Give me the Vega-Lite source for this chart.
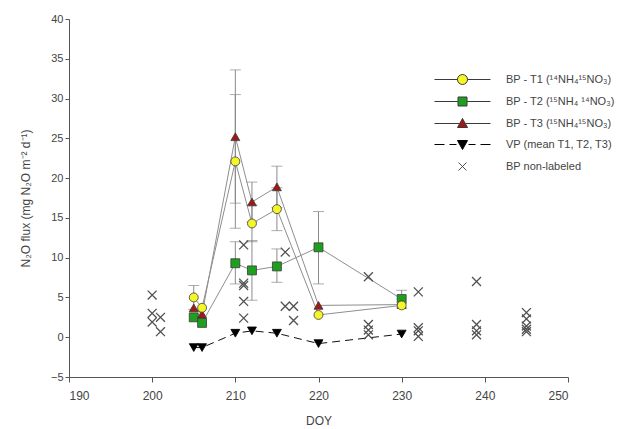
{
  "$schema": "https://vega.github.io/schema/vega-lite/v6.json",
  "width": 499,
  "height": 358,
  "autosize": {"type": "none"},
  "padding": {"left": 69, "top": 19, "right": 75, "bottom": 52},
  "background": "white",
  "config": {
    "view": {"stroke": null},
    "font": "Liberation Sans",
    "axis": {"grid": false, "domainColor": "#555", "tickColor": "#555", "labelColor": "#444", "titleColor": "#444", "labelFontSize": 11, "titleFontSize": 12, "titleFontWeight": "normal", "labelFont": "Liberation Sans", "titleFont": "Liberation Sans", "labelOverlap": false},
    "legend": {"orient": "none", "legendX": 388, "legendY": 55, "padding": 0, "symbolSize": 100, "symbolStrokeWidth": 1, "labelOffset": 38, "rowPadding": 8, "labelFontSize": 11, "labelColor": "#444", "labelLimit": 400, "labelFont": "Liberation Sans"}
  },
  "datasets": {
    "pts": [
      {"d": 200, "v": 5.3, "s": "NL"}, {"d": 200, "v": 3.0, "s": "NL"}, {"d": 200, "v": 1.9, "s": "NL"},
      {"d": 201, "v": 2.5, "s": "NL"}, {"d": 201, "v": 0.7, "s": "NL"},
      {"d": 211, "v": 11.6, "s": "NL"}, {"d": 211, "v": 6.8, "s": "NL"}, {"d": 211, "v": 6.5, "s": "NL"}, {"d": 211, "v": 4.5, "s": "NL"}, {"d": 211, "v": 2.4, "s": "NL"},
      {"d": 216, "v": 10.7, "s": "NL"}, {"d": 216, "v": 3.9, "s": "NL"}, {"d": 217, "v": 3.9, "s": "NL"}, {"d": 217, "v": 2.1, "s": "NL"},
      {"d": 226, "v": 7.6, "s": "NL"}, {"d": 226, "v": 1.6, "s": "NL"}, {"d": 226, "v": 0.9, "s": "NL"}, {"d": 226, "v": 0.3, "s": "NL"},
      {"d": 232, "v": 5.7, "s": "NL"}, {"d": 232, "v": 1.2, "s": "NL"}, {"d": 232, "v": 0.8, "s": "NL"}, {"d": 232, "v": 0.1, "s": "NL"},
      {"d": 239, "v": 7.0, "s": "NL"}, {"d": 239, "v": 1.6, "s": "NL"}, {"d": 239, "v": 0.8, "s": "NL"}, {"d": 239, "v": 0.3, "s": "NL"},
      {"d": 245, "v": 3.1, "s": "NL"}, {"d": 245, "v": 2.3, "s": "NL"}, {"d": 245, "v": 1.4, "s": "NL"}, {"d": 245, "v": 1.0, "s": "NL"}, {"d": 245, "v": 0.7, "s": "NL"},
      {"d": 205, "v": -1.3, "s": "VP"}, {"d": 206, "v": -1.3, "s": "VP"}, {"d": 210, "v": 0.5, "s": "VP"}, {"d": 212, "v": 0.8, "s": "VP"}, {"d": 215, "v": 0.5, "s": "VP"}, {"d": 220, "v": -0.8, "s": "VP"}, {"d": 230, "v": 0.4, "s": "VP"},
      {"d": 205, "v": 2.5, "s": "T2"}, {"d": 206, "v": 1.8, "s": "T2"}, {"d": 210, "v": 9.3, "s": "T2"}, {"d": 212, "v": 8.4, "s": "T2"}, {"d": 215, "v": 8.9, "s": "T2"}, {"d": 220, "v": 11.3, "s": "T2"}, {"d": 230, "v": 4.8, "s": "T2"},
      {"d": 205, "v": 3.7, "s": "T3"}, {"d": 206, "v": 2.9, "s": "T3"}, {"d": 210, "v": 25.2, "s": "T3"}, {"d": 212, "v": 17.0, "s": "T3"}, {"d": 215, "v": 18.9, "s": "T3"}, {"d": 220, "v": 4.0, "s": "T3"}, {"d": 230, "v": 4.1, "s": "T3"},
      {"d": 205, "v": 5.0, "s": "T1"}, {"d": 206, "v": 3.7, "s": "T1"}, {"d": 210, "v": 22.1, "s": "T1"}, {"d": 212, "v": 14.3, "s": "T1"}, {"d": 215, "v": 16.1, "s": "T1"}, {"d": 220, "v": 2.8, "s": "T1"}, {"d": 230, "v": 4.0, "s": "T1"}
    ],
    "err": [
      {"d": 205, "s": "T1", "lo": 3.5, "hi": 6.5},
      {"d": 210, "s": "T1", "lo": 13.7, "hi": 30.5},
      {"d": 212, "s": "T1", "lo": 12.0, "hi": 16.6},
      {"d": 215, "s": "T1", "lo": 13.4, "hi": 18.8},
      {"d": 210, "s": "T2", "lo": 6.7, "hi": 12.0},
      {"d": 212, "s": "T2", "lo": 4.65, "hi": 12.15},
      {"d": 215, "s": "T2", "lo": 6.9, "hi": 11.1},
      {"d": 220, "s": "T2", "lo": 6.7, "hi": 15.8},
      {"d": 230, "s": "T2", "lo": 3.7, "hi": 5.9},
      {"d": 210, "s": "T3", "lo": 16.85, "hi": 33.6},
      {"d": 212, "s": "T3", "lo": 14.5, "hi": 19.5},
      {"d": 215, "s": "T3", "lo": 16.3, "hi": 21.5}
    ]
  },
  "encoding": {
    "x": {"field": "d", "type": "quantitative", "scale": {"domain": [190, 250], "nice": false, "zero": false},
      "axis": {"title": "DOY", "values": [190, 200, 210, 220, 230, 240, 250], "tickSize": 5, "labelPadding": 8, "titlePadding": 14, "labelFontSize": 12}},
    "y": {"field": "v", "type": "quantitative", "scale": {"domain": [-5, 40], "nice": false, "zero": false},
      "axis": {"title": "N₂O flux (mg N₂O m⁻² d⁻¹)", "values": [-5, 0, 5, 10, 15, 20, 25, 30, 35, 40], "tickSize": 4, "labelPadding": 2, "titlePadding": 18, "labelOverlap": false}}
  },
  "layer": [
    {
      "data": {"name": "pts"},
      "transform": [{"filter": "datum.s=='T1' || datum.s=='T2' || datum.s=='T3'"}],
      "mark": {"type": "line", "color": "#8e8e8e", "strokeWidth": 1},
      "encoding": {
        "detail": {"field": "s"}
      }
    },
    {
      "data": {"name": "pts"},
      "transform": [{"filter": "datum.s=='VP'"}],
      "mark": {"type": "line", "color": "#111", "strokeWidth": 1, "strokeDash": [8, 5]},
      "encoding": {}
    },
    {
      "data": {"name": "err"},
      "mark": {"type": "rule", "color": "#8a8a8a", "strokeWidth": 1},
      "encoding": {
        "y": {"field": "lo", "type": "quantitative", "scale": {"domain": [-5, 40], "nice": false, "zero": false},
          "axis": {"title": "N₂O flux (mg N₂O m⁻² d⁻¹)", "values": [-5, 0, 5, 10, 15, 20, 25, 30, 35, 40], "tickSize": 4, "labelPadding": 2, "titlePadding": 18, "labelOverlap": false}},
        "y2": {"field": "hi"}
      }
    },
    {
      "data": {"name": "err"},
      "mark": {"type": "tick", "orient": "horizontal", "size": 11, "thickness": 1, "color": "#8a8a8a"},
      "encoding": {
        "y": {"field": "lo", "type": "quantitative", "scale": {"domain": [-5, 40], "nice": false, "zero": false},
          "axis": {"title": "N₂O flux (mg N₂O m⁻² d⁻¹)", "values": [-5, 0, 5, 10, 15, 20, 25, 30, 35, 40], "tickSize": 4, "labelPadding": 2, "titlePadding": 18, "labelOverlap": false}}
      }
    },
    {
      "data": {"name": "err"},
      "mark": {"type": "tick", "orient": "horizontal", "size": 11, "thickness": 1, "color": "#8a8a8a"},
      "encoding": {
        "y": {"field": "hi", "type": "quantitative", "scale": {"domain": [-5, 40], "nice": false, "zero": false},
          "axis": {"title": "N₂O flux (mg N₂O m⁻² d⁻¹)", "values": [-5, 0, 5, 10, 15, 20, 25, 30, 35, 40], "tickSize": 4, "labelPadding": 2, "titlePadding": 18, "labelOverlap": false}}
      }
    },
    {
      "data": {"name": "pts"},
      "mark": {"type": "point", "filled": true, "size": 80, "opacity": 1},
      "encoding": {
        "shape": {"field": "s", "type": "nominal",
          "scale": {"domain": ["NL", "T1", "T2", "T3", "VP"], "range": ["M-1,-1L1,1M1,-1L-1,1", "circle", "square", "triangle-up", "triangle-down"]},
          "legend": null
        },
        "fill": {"field": "s", "type": "nominal",
          "scale": {"domain": ["T1", "T2", "T3", "VP", "NL"], "range": ["#f5f52a", "#1f9f1f", "#a01818", "#000000", "transparent"]},
          "legend": {
            "title": null,
            "labelExpr": "datum.value=='T1' ? 'BP - T1 (¹⁴NH₄¹⁵NO₃)' : datum.value=='T2' ? 'BP - T2 (¹⁵NH₄ ¹⁴NO₃)' : datum.value=='T3' ? 'BP - T3 (¹⁵NH₄¹⁵NO₃)' : datum.value=='VP' ? 'VP (mean T1, T2, T3)' : 'BP non-labeled'",
            "symbolType": {"expr": "datum.value=='T1' ? 'M-5.6,0H-1M1,0H5.6M-1,0A1,1,0,1,0,1,0A1,1,0,1,0,-1,0Z' : datum.value=='T2' ? 'M-5.6,0H-0.9M0.9,0H5.6M-0.9,-0.9H0.9V0.9H-0.9Z' : datum.value=='T3' ? 'M-5.6,0H-0.55M0.55,0H5.6M0,-1L1,0.8H-1Z' : datum.value=='VP' ? 'M-5.6,0H-3.6M-2.6,0H-1.2M1.2,0H2.6M3.6,0H5.6M-1,-0.8H1L0,1Z' : 'M-0.8,-0.8L0.8,0.8M0.8,-0.8L-0.8,0.8'"}
          }
        },
        "stroke": {"field": "s", "type": "nominal",
          "scale": {"domain": ["T1", "T2", "T3", "VP", "NL"], "range": ["#3a3a3a", "#3a3a3a", "#3a3a3a", "#000000", "#505050"]},
          "legend": {
            "title": null,
            "labelExpr": "datum.value=='T1' ? 'BP - T1 (¹⁴NH₄¹⁵NO₃)' : datum.value=='T2' ? 'BP - T2 (¹⁵NH₄ ¹⁴NO₃)' : datum.value=='T3' ? 'BP - T3 (¹⁵NH₄¹⁵NO₃)' : datum.value=='VP' ? 'VP (mean T1, T2, T3)' : 'BP non-labeled'",
            "symbolType": {"expr": "datum.value=='T1' ? 'M-5.6,0H-1M1,0H5.6M-1,0A1,1,0,1,0,1,0A1,1,0,1,0,-1,0Z' : datum.value=='T2' ? 'M-5.6,0H-0.9M0.9,0H5.6M-0.9,-0.9H0.9V0.9H-0.9Z' : datum.value=='T3' ? 'M-5.6,0H-0.55M0.55,0H5.6M0,-1L1,0.8H-1Z' : datum.value=='VP' ? 'M-5.6,0H-3.6M-2.6,0H-1.2M1.2,0H2.6M3.6,0H5.6M-1,-0.8H1L0,1Z' : 'M-0.8,-0.8L0.8,0.8M0.8,-0.8L-0.8,0.8'"}
          }
        },
        "strokeWidth": {"condition": {"test": "datum.s=='NL'", "value": 1.3}, "value": 0.8}
      }
    }
  ]
}
